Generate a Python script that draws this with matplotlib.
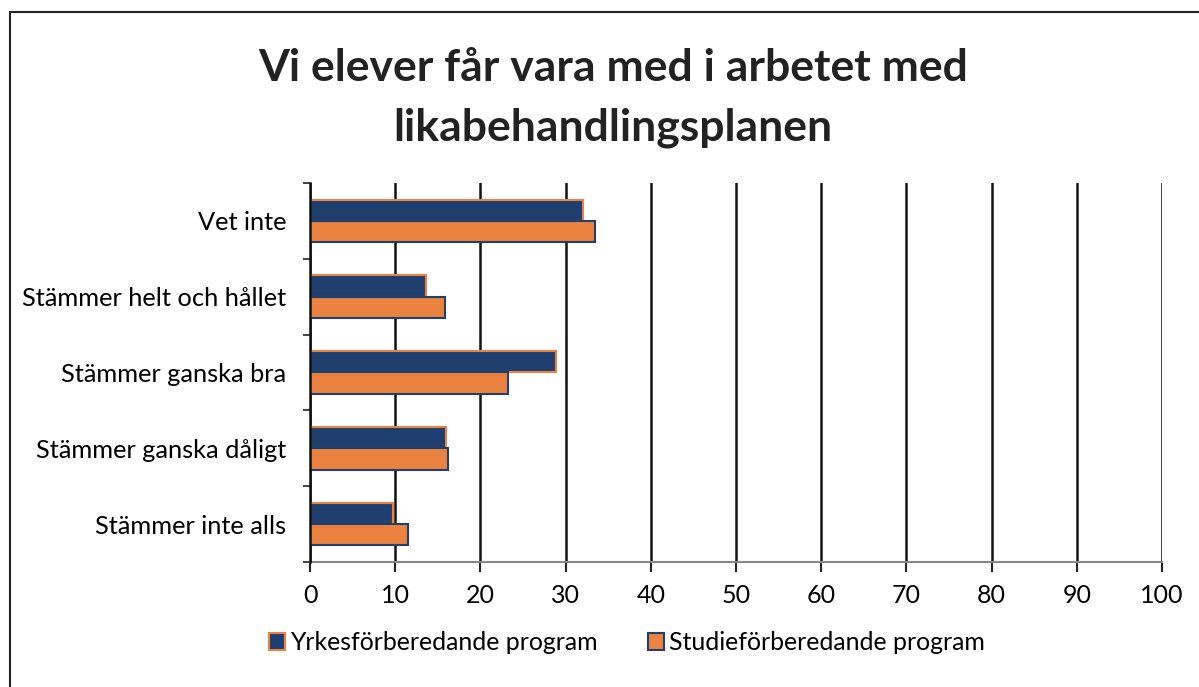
import numpy as np
import matplotlib.pyplot as plt
from matplotlib.patches import Rectangle, Patch

# Data
categories = ['Vet inte', 'Stämmer helt och hållet', 'Stämmer ganska bra',
              'Stämmer ganska dåligt', 'Stämmer inte alls']
yrkes = [32.0, 13.6, 28.9, 16.0, 9.7]
studie = [33.5, 15.8, 23.2, 16.2, 11.5]
series_names = ['Yrkesförberedande program', 'Studieförberedande program']
xticks = [0, 10, 20, 30, 40, 50, 60, 70, 80, 90, 100]

blue = '#1f3f6e'
orange = '#ec8240'

plt.rcParams['font.family'] = ['Lato', 'DejaVu Sans']

fig = plt.figure(figsize=(11.99, 6.87), dpi=100)
ax = fig.add_axes([310 / 1199, 1 - 562 / 687, 852 / 1199, 379 / 687])

# outer chart frame
fig.patches.append(Rectangle((10 / 1199, -0.1), 1.2, 1 - 12 / 687 + 0.1,
                             transform=fig.transFigure, fill=False,
                             edgecolor='#222222', lw=1.5))

y = np.arange(len(categories))
h = 0.28
ax.barh(y - h / 2, yrkes, height=h, color=blue, edgecolor=orange, lw=1.5, zorder=3)
ax.barh(y + h / 2, studie, height=h, color=orange, edgecolor=blue, lw=1.5, zorder=3)

ax.set_xlim(0, 100)
ax.set_ylim(len(categories) - 0.5, -0.5)
ax.set_xticks(xticks)
ax.set_xticklabels([str(t) for t in xticks], fontsize=18)
ax.set_yticks(y)
ax.set_yticklabels(categories, fontsize=18.3)
ax.set_yticks(np.arange(len(categories) + 1) - 0.5, minor=True)
ax.tick_params(axis='y', which='major', length=0, pad=17)
ax.tick_params(axis='y', which='minor', length=5, width=1.2, color='#222222')
ax.tick_params(axis='x', length=7, width=1.5, color='#222222', pad=9)

ax.grid(axis='x', color='#111111', lw=1.8, zorder=1)
for s in ['top', 'right']:
    ax.spines[s].set_visible(False)
ax.spines['left'].set_color('#111111')
ax.spines['left'].set_linewidth(1.8)
ax.spines['left'].set_zorder(4)
ax.spines['bottom'].set_color('#888888')
ax.spines['bottom'].set_linewidth(1.5)

fig.text(613 / 1199, 1 - 98 / 687, 'Vi elever får vara med i arbetet med\nlikabehandlingsplanen',
         ha='center', va='center', fontsize=32, fontweight='bold',
         color='#222222', linespacing=1.6)

handles = [Patch(facecolor=blue, edgecolor=orange, lw=1.5),
           Patch(facecolor=orange, edgecolor=blue, lw=1.5)]
fig.legend(handles, series_names, loc='center', bbox_to_anchor=(627 / 1199, 1 - 643 / 687),
           ncol=2, frameon=False, fontsize=17.9, handlelength=0.65, handleheight=0.65,
           handletextpad=0.2, columnspacing=2.0)

fig.savefig('out.png', dpi=100)
